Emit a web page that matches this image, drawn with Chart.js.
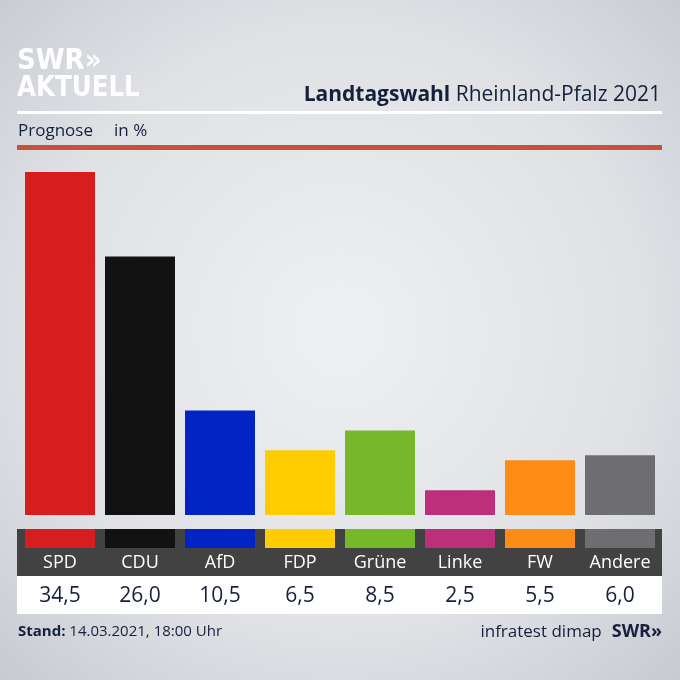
<!DOCTYPE html>
<html>
<head>
<meta charset="utf-8">
<script src="https://cdn.jsdelivr.net/npm/chart.js@4"></script>
<style>
  html, body { margin: 0; padding: 0; background: #d5d8de; }
  canvas { display: block; }
</style>
</head>
<body>
<canvas id="chart" width="680" height="680"></canvas>
<script>
// Prognose Landtagswahl RLP 2021, in %
const parties = ['SPD', 'CDU', 'AfD', 'FDP', 'Grüne', 'Linke', 'FW', 'Andere'];
const shares = [34.5, 26.0, 10.5, 6.5, 8.5, 2.5, 5.5, 6.0];
const partyColors = ['#d71e1e', '#121212', '#0423c4', '#ffcc00', '#76b82a', '#bd2f7a', '#ff8b17', '#6e6e70'];
const valueLabels = ['34,5', '26,0', '10,5', '6,5', '8,5', '2,5', '5,5', '6,0'];

const FONT = '"Open Sans", "Noto Sans", sans-serif';
const NAVY = '#15203a';

// draws background, header, label band and footer around the bars
const frame = {
    id: 'frame',
    beforeDraw(chart) {
        const ctx = chart.ctx;
        const w = chart.width, h = chart.height;
        ctx.save();
        const g = ctx.createRadialGradient(340, 330, 40, 340, 330, 520);
        g.addColorStop(0, '#eceef1');
        g.addColorStop(0.55, '#dfe1e5');
        g.addColorStop(1, '#c3c7ce');
        ctx.fillStyle = g;
        ctx.fillRect(0, 0, w, h);

        // logo
        ctx.fillStyle = '#ffffff';
        ctx.textBaseline = 'alphabetic';
        ctx.textAlign = 'left';
        ctx.font = 'bold 29px "DejaVu Sans Condensed", sans-serif';
        ctx.fillText('SWR»', 17, 69);
        ctx.save();
        ctx.translate(17, 96);
        ctx.scale(0.94, 1);
        ctx.fillText('AKTUELL', 0, 0);
        ctx.restore();

        // title
        ctx.textAlign = 'right';
        ctx.font = '21px ' + FONT;
        ctx.fillStyle = NAVY;
        const rest = ' Rheinland-Pfalz 2021';
        ctx.fillText(rest, 661, 101);
        const rw = ctx.measureText(rest).width;
        ctx.font = 'bold 21px ' + FONT;
        ctx.fillText('Landtagswahl', 661 - rw, 101);

        ctx.fillStyle = '#ffffff';
        ctx.fillRect(17, 111, 645, 3);

        ctx.textAlign = 'left';
        ctx.fillStyle = NAVY;
        ctx.font = '17px ' + FONT;
        ctx.fillText('Prognose', 18, 136);
        ctx.fillText('in %', 114, 136);

        ctx.fillStyle = '#c9503a';
        ctx.fillRect(17, 145, 645, 5);
        ctx.restore();
    },
    afterDraw(chart) {
        const ctx = chart.ctx;
        const bars = chart.getDatasetMeta(0).data;
        ctx.save();
        ctx.fillStyle = '#424242';
        ctx.fillRect(17, 529, 645, 47);
        ctx.fillStyle = '#ffffff';
        ctx.fillRect(17, 576, 645, 38);

        ctx.textAlign = 'center';
        ctx.textBaseline = 'middle';
        bars.forEach((bar, i) => {
            ctx.fillStyle = partyColors[i];
            ctx.fillRect(bar.x - bar.width / 2, 529, bar.width, 19);
            ctx.fillStyle = '#ffffff';
            ctx.font = '18px ' + FONT;
            ctx.fillText(parties[i], bar.x, 563);
            ctx.fillStyle = NAVY;
            ctx.font = '21px ' + FONT;
            ctx.fillText(valueLabels[i], bar.x, 596);
        });

        // footer
        ctx.textBaseline = 'alphabetic';
        ctx.textAlign = 'left';
        ctx.fillStyle = NAVY;
        ctx.font = 'bold 15px ' + FONT;
        ctx.fillText('Stand:', 18, 636);
        const sw = ctx.measureText('Stand: ').width;
        ctx.font = '15px ' + FONT;
        ctx.fillText('14.03.2021, 18:00 Uhr', 18 + sw, 636);

        ctx.textAlign = 'right';
        ctx.font = 'bold 18px ' + FONT;
        ctx.fillText('SWR»', 662, 637);
        const lw = ctx.measureText('SWR»').width;
        ctx.font = '17px ' + FONT;
        ctx.fillText('infratest dimap', 662 - lw - 10, 637);
        ctx.restore();
    }
};

new Chart(document.getElementById('chart'), {
    type: 'bar',
    data: {
        labels: parties,
        datasets: [{
            data: shares,
            backgroundColor: partyColors,
            borderWidth: 0,
            barPercentage: 0.875,
            categoryPercentage: 1
        }]
    },
    options: {
        responsive: false,
        animation: false,
        layout: { padding: { left: 20, right: 20, top: 157, bottom: 165 } },
        plugins: { legend: { display: false }, tooltip: { enabled: false } },
        scales: {
            x: { display: false },
            y: { display: false, min: 0, max: 36 }
        }
    },
    plugins: [frame]
});
</script>
</body>
</html>
